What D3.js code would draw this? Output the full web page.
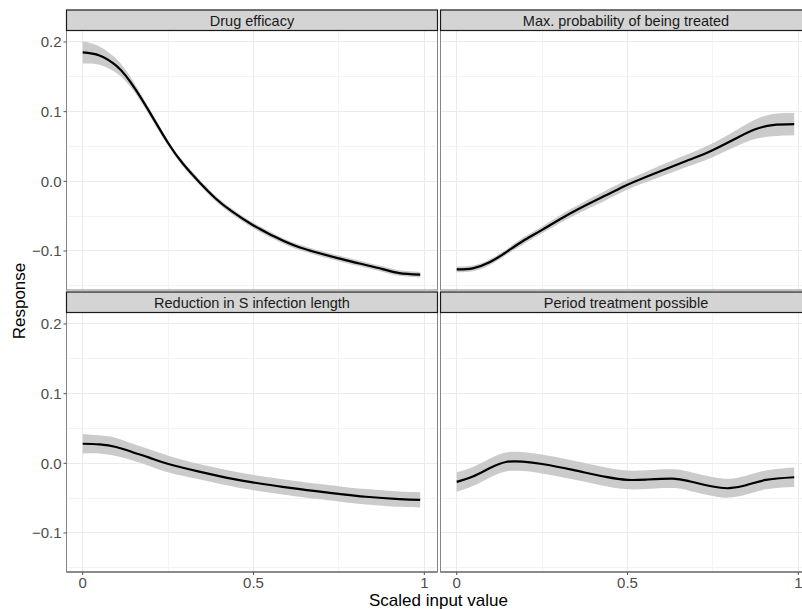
<!DOCTYPE html>
<html lang="en">
<head>
<meta charset="utf-8">
<title>Response curves</title>
<script src="https://d3js.org/d3.v7.min.js"></script>
<style>
  body { margin: 0; background: #fff; }
  text { font-family: "Liberation Sans", Arial, sans-serif; }
  .grid line { stroke: #ebebeb; shape-rendering: crispEdges; }
  .grid line.minor { stroke: #f3f3f3; }
  .tick-label { fill: #4d4d4d; font-size: 15px; }
</style>
</head>
<body>
<script>
// panel titles
let panelTitles = ["Drug efficacy", "Max. probability of being treated",
                   "Reduction in S infection length", "Period treatment possible"];

// Drug efficacy
let effX  = [0, 0.049, 0.098, 0.127, 0.156, 0.195, 0.25, 0.293, 0.341, 0.39, 0.439, 0.5, 0.556, 0.634, 0.75, 0.81, 0.878, 0.927, 0.988];
let effY  = [0.185, 0.1805, 0.166, 0.151, 0.131, 0.100, 0.055, 0.0255, -0.001, -0.025, -0.044, -0.0635, -0.078, -0.0947, -0.1106, -0.118, -0.126, -0.1317, -0.134];
let effSe = [0.016, 0.013, 0.010, 0.008, 0.006, 0.005, 0.004, 0.004, 0.004, 0.004, 0.004, 0.004, 0.004, 0.004, 0.004, 0.004, 0.004, 0.004, 0.004];

// Max. probability of being treated
let probX  = [0, 0.047, 0.096, 0.144, 0.193, 0.25, 0.34, 0.437, 0.5, 0.583, 0.681, 0.749, 0.827, 0.876, 0.925, 0.988];
let probY  = [-0.1264, -0.125, -0.1163, -0.102, -0.086, -0.0697, -0.044, -0.020, -0.0048, 0.012, 0.031, 0.0447, 0.064, 0.075, 0.0808, 0.0822];
let probSe = [0.004, 0.004, 0.004, 0.004, 0.005, 0.005, 0.006, 0.007, 0.007, 0.008, 0.009, 0.010, 0.012, 0.014, 0.016, 0.016];

// Reduction in S infection length
let redX  = [0, 0.049, 0.098, 0.146, 0.195, 0.251, 0.341, 0.439, 0.5, 0.585, 0.683, 0.749, 0.829, 0.927, 0.988];
let redY  = [0.0281, 0.0272, 0.0235, 0.016, 0.0082, -0.001, -0.0119, -0.0224, -0.0276, -0.0338, -0.040, -0.0438, -0.048, -0.0514, -0.0524];
let redSe = [0.014, 0.013, 0.013, 0.012, 0.012, 0.012, 0.011, 0.011, 0.011, 0.011, 0.011, 0.011, 0.011, 0.011, 0.011];

// Period treatment possible
let perX  = [0, 0.047, 0.096, 0.144, 0.193, 0.25, 0.34, 0.437, 0.5, 0.554, 0.632, 0.681, 0.749, 0.798, 0.847, 0.905, 0.988];
let perY  = [-0.0267, -0.019, -0.0071, 0.0019, 0.0024, -0.001, -0.0095, -0.0195, -0.0238, -0.0233, -0.0219, -0.0257, -0.0333, -0.0357, -0.0314, -0.0238, -0.02];
let perSe = [0.014, 0.0135, 0.0135, 0.0135, 0.0135, 0.0135, 0.0135, 0.0135, 0.0135, 0.0135, 0.0135, 0.0135, 0.0135, 0.0135, 0.0135, 0.0135, 0.014];

let yMajor = [-0.1, 0, 0.1, 0.2];
let yMinor = [-0.15, -0.05, 0.05, 0.15];
let yLabels = ["\u22120.1", "0.0", "0.1", "0.2"];
let xMajor = [0, 0.5, 1];
let xMinor = [0.25, 0.75];
let xLabels = ["0", "0.5", "1"];

let w = 802, h = 609;
let panelW = 371, panelH = 259.5, stripH = 20.5;
let colX = [66.5, 440.5];
let rowY = [10, 292];

let panels = [
  {x: effX, y: effY, se: effSe},
  {x: probX, y: probY, se: probSe},
  {x: redX, y: redY, se: redSe},
  {x: perX, y: perY, se: perSe}
];

let xScale = d3.scaleLinear().domain([-0.0474, 1.0386]).range([0, panelW]);
let yScale = d3.scaleLinear().domain([-0.156, 0.2165]).range([panelH, 0]);

let svg = d3.select("body").append("svg")
  .attr("width", w).attr("height", h);

panels.forEach((p, i) => {
  let col = i % 2, row = Math.floor(i / 2);
  let g = svg.append("g")
    .attr("transform", "translate(" + colX[col] + "," + (rowY[row] + stripH) + ")");

  // grid
  let grid = g.append("g").attr("class", "grid");
  grid.selectAll("line.minor-y").data(yMinor).enter().append("line")
    .attr("class", "minor").attr("x1", 0).attr("x2", panelW)
    .attr("y1", d => yScale(d)).attr("y2", d => yScale(d));
  grid.selectAll("line.minor-x").data(xMinor).enter().append("line")
    .attr("class", "minor").attr("y1", 0).attr("y2", panelH)
    .attr("x1", d => xScale(d)).attr("x2", d => xScale(d));
  grid.selectAll("line.major-y").data(yMajor).enter().append("line")
    .attr("x1", 0).attr("x2", panelW)
    .attr("y1", d => yScale(d)).attr("y2", d => yScale(d));
  grid.selectAll("line.major-x").data(xMajor).enter().append("line")
    .attr("y1", 0).attr("y2", panelH)
    .attr("x1", d => xScale(d)).attr("x2", d => xScale(d));

  let pts = p.x.map((d, k) => ({x: d, y: p.y[k], se: p.se[k]}));

  let area = d3.area()
    .x(d => xScale(d.x))
    .y0(d => yScale(d.y - d.se))
    .y1(d => yScale(d.y + d.se))
    .curve(d3.curveNatural);
  g.append("path").datum(pts)
    .attr("d", area)
    .attr("fill", "#cbcbcb");

  let line = d3.line()
    .x(d => xScale(d.x))
    .y(d => yScale(d.y))
    .curve(d3.curveNatural);
  g.append("path").datum(pts)
    .attr("d", line)
    .attr("fill", "none")
    .attr("stroke", "#000")
    .attr("stroke-width", 2.2);

  // panel border
  g.append("rect")
    .attr("x", 0).attr("y", 0).attr("width", panelW).attr("height", panelH)
    .attr("fill", "none").attr("stroke", "#858585").attr("stroke-width", 1);

  // strip
  let s = svg.append("g")
    .attr("transform", "translate(" + colX[col] + "," + rowY[row] + ")");
  s.append("rect")
    .attr("x", 0).attr("y", 0).attr("width", panelW).attr("height", stripH)
    .attr("fill", "#d4d4d4").attr("stroke", "#1a1a1a").attr("stroke-width", 1.2);
  s.append("text")
    .attr("x", panelW / 2)
    .attr("y", 15.5)
    .attr("text-anchor", "middle")
    .attr("font-size", "14.5px")
    .attr("fill", "#1a1a1a")
    .text(panelTitles[i]);

  // y axis on the left column
  if (col === 0) {
    let ya = g.append("g");
    ya.selectAll("line").data(yMajor).enter().append("line")
      .attr("x1", -3).attr("x2", 0)
      .attr("y1", d => yScale(d)).attr("y2", d => yScale(d))
      .attr("stroke", "#555");
    ya.selectAll("text").data(yMajor).enter().append("text")
      .attr("class", "tick-label")
      .attr("x", -5)
      .attr("y", d => yScale(d) + 5.5)
      .attr("text-anchor", "end")
      .text((d, k) => yLabels[k]);
  }
  // x axis on the bottom row
  if (row === 1) {
    let xa = g.append("g").attr("transform", "translate(0," + panelH + ")");
    xa.append("line").attr("x1", 0).attr("x2", panelW)
      .attr("stroke", "#555").attr("stroke-width", 1.2);
    xa.selectAll("line.t").data(xMajor).enter().append("line")
      .attr("x1", d => xScale(d)).attr("x2", d => xScale(d))
      .attr("y1", 0).attr("y2", 3)
      .attr("stroke", "#555");
    xa.selectAll("text").data(xMajor).enter().append("text")
      .attr("class", "tick-label")
      .attr("x", d => xScale(d))
      .attr("y", 15.5)
      .attr("text-anchor", "middle")
      .text((d, k) => xLabels[k]);
  }
});

svg.append("text")
  .attr("transform", "translate(25,301) rotate(-90)")
  .attr("text-anchor", "middle")
  .attr("font-size", "17px")
  .attr("fill", "#000")
  .text("Response");

svg.append("text")
  .attr("x", 438.5)
  .attr("y", 606)
  .attr("text-anchor", "middle")
  .attr("font-size", "17px")
  .attr("fill", "#000")
  .text("Scaled input value");
</script>
</body>
</html>
